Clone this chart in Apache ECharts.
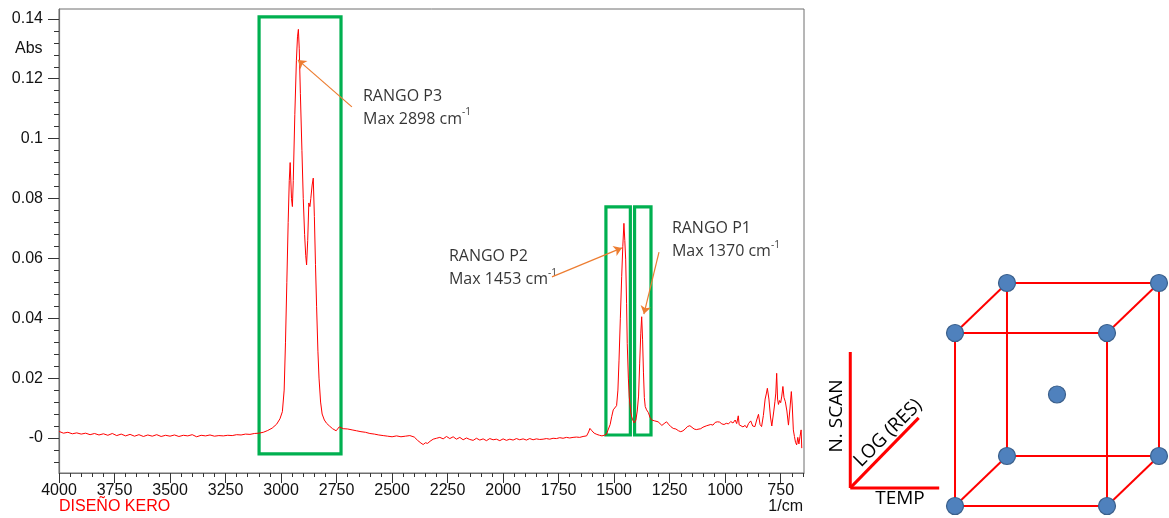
<!DOCTYPE html>
<html>
<head>
<meta charset="utf-8">
<script src="https://cdn.jsdelivr.net/npm/echarts@6/dist/echarts.min.js"></script>
<style>
html, body {margin: 0; padding: 0; background: #fff;}
#main {width: 1169px; height: 518px;}
</style>
</head>
<body>
<div id="main"></div>
<script>
// espectro IR del kerosene, [1/cm, Abs]
const tramoAlto = [
    [4000, 0.0022], [3980, 0.0016], [3960, 0.0019], [3940, 0.0014], [3920, 0.0017], [3900, 0.0013],
    [3880, 0.0016], [3860, 0.0011], [3840, 0.0015], [3820, 0.0010], [3800, 0.0014], [3780, 0.0009],
    [3760, 0.0015], [3740, 0.0008], [3720, 0.0013], [3700, 0.0007], [3680, 0.0012], [3660, 0.0006],
    [3640, 0.0011], [3620, 0.0005], [3600, 0.0010], [3580, 0.0006], [3560, 0.0011], [3540, 0.0005],
    [3520, 0.0009], [3500, 0.0006], [3480, 0.0010], [3460, 0.0005], [3440, 0.0009], [3420, 0.0007],
    [3400, 0.0011], [3380, 0.0004], [3360, 0.0009], [3340, 0.0007], [3320, 0.0010], [3300, 0.0006],
    [3280, 0.0008], [3260, 0.0007], [3240, 0.0009], [3220, 0.0008], [3200, 0.0011], [3180, 0.0010],
    [3160, 0.0013], [3140, 0.0012], [3120, 0.0015], [3100, 0.0016]
];
const tramoCH = [
    [3080, 0.0019], [3060, 0.0025], [3040, 0.0033], [3020, 0.0046], [3005, 0.0064], [2994, 0.0088],
    [2986, 0.016], [2980, 0.032], [2974, 0.052], [2968, 0.072], [2963, 0.086], [2959, 0.092],
    [2953, 0.080], [2949, 0.0773], [2945, 0.086], [2938, 0.108], [2931, 0.126], [2926, 0.134],
    [2922, 0.1365], [2918, 0.130], [2913, 0.115], [2906, 0.096], [2900, 0.080], [2894, 0.068],
    [2889, 0.061], [2885, 0.0578], [2880, 0.066], [2875, 0.0785], [2870, 0.0773], [2866, 0.080],
    [2860, 0.0845], [2855, 0.0868], [2850, 0.074], [2845, 0.058], [2840, 0.044], [2834, 0.029],
    [2829, 0.0200], [2822, 0.0120], [2815, 0.0080], [2805, 0.0060], [2795, 0.0049], [2782, 0.0040],
    [2768, 0.0031], [2752, 0.0024], [2745, 0.0026], [2738, 0.0037], [2730, 0.0034]
];
const tramoMedio = [
    [2720, 0.0031], [2700, 0.0030], [2680, 0.0027], [2660, 0.0024], [2640, 0.0021], [2620, 0.0019],
    [2600, 0.0015], [2580, 0.0013], [2560, 0.0010], [2540, 0.0008], [2520, 0.0006], [2500, 0.0004],
    [2480, 0.0007], [2460, 0.0004], [2440, 0.0006], [2420, 0.0008], [2400, 0.0003], [2385, -0.0008],
    [2370, -0.0017], [2360, -0.0022], [2350, -0.0016], [2340, -0.0018], [2329, -0.0011], [2315, -0.0004],
    [2300, -0.0001], [2285, 0.0002], [2270, -0.0003], [2255, 0.0005], [2240, -0.0002], [2225, 0.0004],
    [2210, -0.0004], [2195, 0.0002], [2180, -0.0006], [2165, 0.0000], [2150, -0.0005], [2135, -0.0008],
    [2120, -0.0001], [2105, -0.0007], [2090, -0.0003], [2075, -0.0009], [2060, -0.0002], [2045, -0.0006],
    [2030, -0.0004], [2015, -0.0009], [2000, -0.0003], [1985, -0.0008], [1970, -0.0004], [1955, -0.0007],
    [1940, -0.0002], [1925, -0.0006], [1910, -0.0003], [1895, -0.0007], [1880, -0.0002], [1865, -0.0006],
    [1850, -0.0003], [1835, -0.0005], [1820, -0.0004], [1805, -0.0002], [1790, -0.0004], [1775, -0.0001],
    [1760, -0.0002], [1745, 0.0001], [1730, -0.0001], [1715, 0.0002], [1700, 0.0000], [1685, 0.0002],
    [1670, 0.0003], [1655, 0.0002], [1640, 0.0005], [1624, 0.0007], [1615, 0.0020], [1609, 0.0032],
    [1600, 0.0024], [1590, 0.0016], [1578, 0.0012], [1566, 0.0009], [1555, 0.0007], [1545, 0.0009],
    [1535, 0.0012]
];
const tramoFlexion = [
    [1526, 0.0018], [1518, 0.0045], [1511, 0.0071], [1504, 0.0094], [1497, 0.0100], [1489, 0.0108],
    [1483, 0.016], [1478, 0.026], [1472, 0.040], [1466, 0.054], [1461, 0.064], [1456, 0.0717],
    [1452, 0.066], [1448, 0.0595], [1444, 0.045], [1441, 0.0316], [1436, 0.020], [1432, 0.0138],
    [1426, 0.0090], [1421, 0.0071], [1415, 0.0058], [1409, 0.0050], [1402, 0.0060], [1396, 0.0090],
    [1390, 0.014], [1385, 0.025], [1380, 0.035], [1376, 0.0405], [1372, 0.033], [1368, 0.022],
    [1364, 0.0135], [1360, 0.0105], [1354, 0.0094], [1346, 0.0085], [1338, 0.0068], [1331, 0.0060],
    [1324, 0.0062], [1317, 0.0057], [1310, 0.0052], [1302, 0.0054]
];
const tramoHuella = [
    [1294, 0.0049], [1285, 0.0042], [1275, 0.0048], [1264, 0.0054], [1255, 0.0046], [1245, 0.0038],
    [1234, 0.0032], [1222, 0.0030], [1210, 0.0024], [1200, 0.0021], [1190, 0.0024], [1180, 0.0030],
    [1170, 0.0038], [1159, 0.0041], [1150, 0.0036], [1140, 0.0030], [1130, 0.0028], [1121, 0.0026],
    [1110, 0.0031], [1100, 0.0036], [1092, 0.0033], [1083, 0.0041], [1075, 0.0038], [1065, 0.0045],
    [1055, 0.0043], [1045, 0.0052], [1035, 0.0054], [1025, 0.0053], [1015, 0.0047], [1005, 0.0045],
    [995, 0.0049], [985, 0.0047], [975, 0.0055], [965, 0.0050], [955, 0.0060], [948, 0.0048],
    [941, 0.0074], [937, 0.0044], [930, 0.0040], [920, 0.0037], [910, 0.0042], [903, 0.0034],
    [895, 0.0048], [885, 0.0057], [876, 0.0040], [866, 0.0038], [858, 0.0060], [850, 0.0079],
    [843, 0.0045], [836, 0.0038], [828, 0.0075], [820, 0.0130], [814, 0.0150], [810, 0.0166],
    [803, 0.0130], [796, 0.0070], [790, 0.0040], [786, 0.0036], [781, 0.0090], [776, 0.0121],
    [772, 0.0150], [768, 0.0216], [764, 0.0130], [760, 0.0112], [755, 0.0125], [750, 0.0118],
    [745, 0.0140], [740, 0.0172], [735, 0.0135], [729, 0.0121], [722, 0.0090], [715, 0.0043],
    [708, 0.0100], [702, 0.0155], [698, 0.0110], [693, 0.0027], [688, 0.0005], [683, -0.0015],
    [678, -0.0023], [673, 0.0002], [668, -0.0020], [663, 0.0005], [658, 0.0027], [655, -0.0034]
];

// rangos marcados (cajas verdes): [desde, hasta, Abs arriba, Abs abajo]
const rangoP3 = [3099, 2730, 0.1407, -0.0053];
const rangoP2 = [1537, 1427, 0.0772, 0.0010];
const rangoP1 = [1408, 1334, 0.0772, 0.0010];

// flechas: [cola, punta]
const flechaP3 = [[2681, 0.1106], [2924, 0.1263]];
const flechaP2 = [[1780, 0.0538], [1465, 0.0635]];
const flechaP1 = [[1298, 0.0621], [1366, 0.0414]];

// textos de los picos
const notas = [
    [2631, 0.1104, 'RANGO P3', 'Max 2898 cm'],
    [2244, 0.0568, 'RANGO P2', 'Max 1453 cm'],
    [1240, 0.0662, 'RANGO P1', 'Max 1370 cm']
];

const xTicks = [4000, 3750, 3500, 3250, 3000, 2750, 2500, 2250, 2000, 1750, 1500, 1250, 1000, 750];
const yTicks = [0, 0.02, 0.04, 0.06, 0.08, 0.1, 0.12, 0.14];
const xMinor = [];
for (let v = 650; v < 4000; v += 50) {
    if (v % 250 !== 0) xMinor.push(v);
}
const yMinor = [];
for (let k = -2; k <= 35; k++) {
    if (k % 5 !== 0) yMinor.push(+(k * 0.004).toFixed(3));
}

// diseño factorial 2^3 + punto central: [TEMP, LOG(RES), N.SCAN]
const disenoPuntos = [
    [-1, -1, -1], [1, -1, -1], [-1, 1, -1], [1, 1, -1],
    [-1, -1, 1], [1, -1, 1], [-1, 1, 1], [1, 1, 1],
    [0, 0, 0]
];
const profundidad = [0.342, 0.289]; // desplazamiento oblicuo por unidad de LOG(RES)
// ejes de referencia del dibujo (origen, TEMP, LOG(RES), N.SCAN)
const ejeOrigen = [-2.72, -1.08];
const ejeTemp = [-1.55, -1.08];
const ejeRes = [-1.82, -0.27];
const ejeScan = [-2.72, 0.49];

function proyectar(p) {
    return [p[0] + profundidad[0] * p[1], p[2] + profundidad[1] * p[1]];
}

const espectro = [].concat(tramoAlto, tramoCH, tramoMedio, tramoFlexion, tramoHuella);

const esquinas = disenoPuntos.filter(p => p.some(v => v !== 0));
const aristas = [];
esquinas.forEach(function (a, i) {
    esquinas.forEach(function (b, j) {
        if (j > i) {
            let dif = 0;
            for (let k = 0; k < 3; k++) if (a[k] !== b[k]) dif++;
            if (dif === 1) aristas.push([proyectar(a), proyectar(b)]);
        }
    });
});

function caja(r) {
    return [{coord: [r[0], r[2]]}, {coord: [r[1], r[3]]}];
}
function flecha(f) {
    return [{coord: f[0]}, {coord: f[1]}];
}

const axisGray = '#6e6e6e';
const labelFont = {fontFamily: 'Liberation Sans', fontSize: 16, color: '#111'};

const series = [
    {
        name: 'espectro',
        type: 'line',
        xAxisIndex: 0,
        yAxisIndex: 0,
        data: espectro,
        showSymbol: false,
        symbol: 'none',
        lineStyle: {color: '#ff0000', width: 1},
        silent: true,
        markArea: {
            silent: true,
            itemStyle: {color: 'rgba(0,0,0,0)', borderColor: '#00b050', borderWidth: 3.2},
            data: [caja(rangoP3), caja(rangoP2), caja(rangoP1)]
        },
        markLine: {
            silent: true,
            symbol: ['none', 'arrow'],
            symbolSize: 8,
            label: {show: false},
            lineStyle: {color: '#ed7d31', width: 1.2, type: 'solid'},
            data: [flecha(flechaP3), flecha(flechaP2), flecha(flechaP1)]
        }
    },
    {
        name: 'notas',
        type: 'scatter',
        xAxisIndex: 0,
        yAxisIndex: 0,
        symbolSize: 0,
        silent: true,
        data: notas.map(n => ({value: [n[0], n[1]], nombre: n[2], max: n[3]})),
        label: {
            show: true,
            position: 'right',
            distance: 0,
            align: 'left',
            verticalAlign: 'middle',
            fontFamily: 'Open Sans',
            fontSize: 16,
            lineHeight: 23,
            color: '#000',
            formatter: p => p.data.nombre + '\n' + p.data.max + '{sup|-1}',
            rich: {
                sup: {fontFamily: 'Open Sans', fontSize: 10, color: '#000', verticalAlign: 'top'}
            }
        }
    }
];

// cubo del diseño
aristas.forEach(function (a) {
    series.push({
        type: 'line',
        xAxisIndex: 2,
        yAxisIndex: 2,
        data: a,
        symbol: 'none',
        silent: true,
        lineStyle: {color: '#ff0000', width: 2}
    });
});
[ejeTemp, ejeRes, ejeScan].forEach(function (e) {
    series.push({
        type: 'line',
        xAxisIndex: 2,
        yAxisIndex: 2,
        data: [ejeOrigen, e],
        symbol: 'none',
        silent: true,
        lineStyle: {color: '#ff0000', width: 3}
    });
});
series.push({
    type: 'scatter',
    xAxisIndex: 2,
    yAxisIndex: 2,
    clip: false,
    silent: true,
    z: 5,
    symbolSize: 17,
    itemStyle: {color: '#4f81bd', borderColor: '#3a5f8b', borderWidth: 1.2, opacity: 1},
    data: disenoPuntos.map(proyectar)
});

const myChart = echarts.init(document.getElementById('main'), null, {renderer: 'canvas'});
myChart.setOption({
    animation: false,
    backgroundColor: '#ffffff',
    grid: [
        {left: 59, right: 365, top: 9, bottom: 45, show: true, borderColor: axisGray, borderWidth: 1, backgroundColor: 'transparent'},
        {left: 829, right: 5.6, top: 264.75, bottom: 11.05}
    ],
    xAxis: [
        {
            type: 'value', gridIndex: 0, min: 645, max: 4000, inverse: true, position: 'bottom',
            axisLine: {onZero: false, lineStyle: {color: axisGray, width: 1.2}},
            axisTick: {customValues: xTicks, length: 10, lineStyle: {color: '#333'}},
            axisLabel: Object.assign({customValues: xTicks, margin: 10, formatter: v => String(v)}, labelFont),
            splitLine: {show: false}
        },
        {
            type: 'value', gridIndex: 0, min: 645, max: 4000, inverse: true, position: 'bottom',
            axisLine: {show: false, onZero: false},
            axisTick: {customValues: xMinor, length: 4, lineStyle: {color: '#333'}},
            axisLabel: {show: false},
            splitLine: {show: false}
        },
        {type: 'value', gridIndex: 1, min: -3, max: 1.4, show: false}
    ],
    yAxis: [
        {
            type: 'value', gridIndex: 0, min: -0.0117, max: 0.1433, position: 'left',
            axisLine: {show: true, onZero: false, lineStyle: {color: axisGray, width: 1.2}},
            axisTick: {show: true, customValues: yTicks, length: 11, lineStyle: {color: '#333'}},
            axisLabel: Object.assign({
                customValues: yTicks,
                margin: 16,
                formatter: v => (v === 0 ? '-0' : String(v))
            }, labelFont),
            splitLine: {show: false}
        },
        {
            type: 'value', gridIndex: 0, min: -0.0117, max: 0.1433, position: 'left',
            axisLine: {show: false, onZero: false},
            axisTick: {show: true, customValues: yMinor, length: 5, lineStyle: {color: '#333'}},
            axisLabel: {show: false},
            splitLine: {show: false}
        },
        {type: 'value', gridIndex: 1, min: -1.3, max: 1.5, show: false}
    ],
    graphic: [
        {type: 'text', x: 15, y: 49, style: {text: 'Abs', align: 'left', verticalAlign: 'middle', font: '16px "Liberation Sans"', fill: '#111'}},
        {type: 'text', x: 803, y: 507, style: {text: '1/cm', align: 'right', verticalAlign: 'middle', font: '16px "Liberation Sans"', fill: '#111'}},
        {type: 'text', x: 59, y: 507, style: {text: 'DISEÑO KERO', align: 'left', verticalAlign: 'middle', font: '16px "Liberation Sans"', fill: '#ff0000'}},
        {type: 'text', x: 837, y: 416, rotation: Math.PI / 2, style: {text: 'N. SCAN', align: 'center', verticalAlign: 'middle', font: '19px "Open Sans"', fill: '#000'}},
        {type: 'text', x: 888, y: 433, rotation: Math.PI / 4, style: {text: 'LOG (RES)', align: 'center', verticalAlign: 'middle', font: '19px "Open Sans"', fill: '#000'}},
        {type: 'text', x: 900, y: 499, style: {text: 'TEMP', align: 'center', verticalAlign: 'middle', font: '19px "Open Sans"', fill: '#000'}}
    ],
    series: series
});
</script>
</body>
</html>
